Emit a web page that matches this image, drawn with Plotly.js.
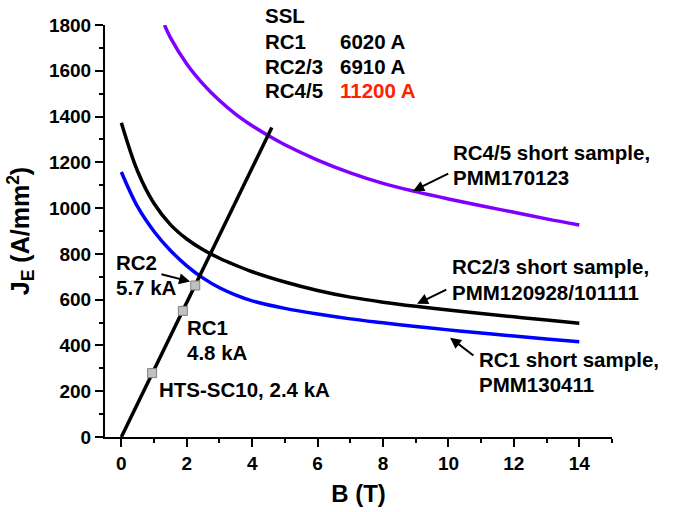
<!DOCTYPE html>
<html>
<head>
<meta charset="utf-8">
<script src="https://cdn.plot.ly/plotly-3.0.1.min.js"></script>
<style>html,body{margin:0;padding:0;background:#fff;}#chart{width:673px;height:512px;}</style>
</head>
<body>
<div id="chart"></div>
<script>
// Short-sample curves: B (T) vs J_E (A/mm^2)
const B_grid = [0, 0.5, 1, 1.5, 2, 2.5, 3, 3.5, 4, 5, 6, 7, 8, 9, 10, 11, 12, 13, 14];
const JE_RC1 = [1158, 1005, 898, 815, 748, 694, 652, 620, 595, 562, 537, 516, 499, 483, 468, 454, 441, 428, 416];
const JE_RC23 = [1373, 1160, 1020, 928, 865, 818, 781, 750, 722, 677, 640, 611, 589, 571, 555, 540, 525, 511, 497];
const B_RC45 = [1.32, 1.5, 2, 2.5, 3, 3.5, 4, 4.5, 5, 6, 7, 8, 9, 10, 11, 12, 13, 14];
const JE_RC45 = [1800, 1745, 1630, 1542, 1470, 1410, 1360, 1316, 1277, 1210, 1154, 1108, 1072, 1040, 1010, 982, 953, 926];
// Load line
const B_load = [0, 4.6];
const JE_load = [0, 1352];
// Operating points on the load line
const B_ops = [0.94, 1.88, 2.26];
const JE_ops = [279, 551, 662];
const ops_names = ['HTS-SC10, 2.4 kA', 'RC1, 4.8 kA', 'RC2, 5.7 kA'];
// SSL table
const ssl_labels = ['RC1', 'RC2/3', 'RC4/5'];
const ssl_values = ['6020 A', '6910 A', '11200 A'];

const FONT = 'Liberation Sans, Arial, sans-serif';
const traces = [
  {x: B_grid, y: JE_RC1, mode: 'lines', line: {color: '#0000ff', width: 3.5, shape: 'spline', smoothing: 1}, name: 'RC1'},
  {x: B_grid, y: JE_RC23, mode: 'lines', line: {color: '#000000', width: 3.5, shape: 'spline', smoothing: 1}, name: 'RC2/3'},
  {x: B_RC45, y: JE_RC45, mode: 'lines', line: {color: '#7f00ff', width: 3.5, shape: 'spline', smoothing: 1}, name: 'RC4/5'},
  {x: B_load, y: JE_load, mode: 'lines', line: {color: '#000000', width: 3.5}, name: 'load'},
  {x: B_ops, y: JE_ops, mode: 'markers', text: ops_names, marker: {symbol: 'square', size: 9, color: '#c0c0c0', line: {color: '#808080', width: 1}}, name: 'ops'}
];

const tf = {family: FONT, size: 20.5, color: '#000', weight: 'bold'};
function txt(t, x, y, opts) {
  return Object.assign({text: t, x: x, y: y, xref: 'x', yref: 'y', xanchor: 'left', yanchor: 'middle', showarrow: false, font: tf, borderpad: 0}, opts || {});
}
function arr(x0, y0, x1, y1) {
  return {text: '', x: x1, y: y1, ax: x0, ay: y0, xref: 'x', yref: 'y', axref: 'x', ayref: 'y',
    showarrow: true, arrowhead: 2, arrowsize: 1.1, arrowwidth: 2, arrowcolor: '#000', standoff: 0, startstandoff: 0};
}
const anns = [
  txt('SSL', 4.36, 1.024, {yref: 'paper'}),
  txt(ssl_labels[0], 4.36, 0.961, {yref: 'paper'}),
  txt(ssl_labels[1], 4.36, 0.900, {yref: 'paper'}),
  txt(ssl_labels[2], 4.36, 0.840, {yref: 'paper'}),
  txt(ssl_values[0], 6.65, 0.961, {yref: 'paper'}),
  txt(ssl_values[1], 6.65, 0.900, {yref: 'paper'}),
  txt(ssl_values[2], 6.65, 0.840, {yref: 'paper', font: Object.assign({}, tf, {color: '#ff2200'})}),
  txt('RC4/5 short sample,', 10.11, 1241),
  txt('PMM170123', 10.11, 1132),
  txt('RC2/3 short sample,', 10.07, 744),
  txt('PMM120928/101111', 10.07, 630),
  txt('RC1 short sample,', 10.90, 338),
  txt('PMM130411', 10.90, 229),
  txt('RC2', -0.20, 761),
  txt('5.7 kA', -0.20, 652),
  txt('RC1', 1.975, 477),
  txt('4.8 kA', 1.975, 368),
  txt('HTS-SC10, 2.4 kA', 1.12, 207),
  arr(10.04, 1154, 8.92, 1075),
  arr(9.98, 647, 9.04, 582),
  arr(10.81, 351, 10.05, 434),
  arr(1.18, 713, 2.10, 679)
];

const layout = {
  width: 673, height: 512,
  margin: {l: 105, r: 61, t: 25, b: 75, pad: 0},
  paper_bgcolor: '#fff', plot_bgcolor: '#fff',
  showlegend: false,
  font: {family: FONT, color: '#000'},
  xaxis: {
    range: [-0.5, 15], tick0: 0, dtick: 2, ticks: 'outside', ticklen: 8, tickwidth: 2, tickcolor: '#000',
    showline: true, linewidth: 2, linecolor: '#000', showgrid: false, zeroline: false,
    tickfont: {family: FONT, size: 19, color: '#000', weight: 'bold'},
    minor: {dtick: 1, tick0: 0, ticks: 'outside', ticklen: 4, tickwidth: 2, tickcolor: '#000', showgrid: false},
    title: {text: 'B (T)', font: {family: FONT, size: 24, color: '#000', weight: 'bold'}, standoff: 12},
    automargin: false
  },
  yaxis: {
    range: [0, 1800], tick0: 0, dtick: 200, ticks: 'outside', ticklen: 8, tickwidth: 2, tickcolor: '#000',
    showline: true, linewidth: 2, linecolor: '#000', showgrid: false, zeroline: false,
    tickfont: {family: FONT, size: 19, color: '#000', weight: 'bold'},
    minor: {dtick: 100, tick0: 0, ticks: 'outside', ticklen: 4, tickwidth: 2, tickcolor: '#000', showgrid: false},
    title: {text: 'J<sub>E</sub> (A/mm<sup>2</sup>)', font: {family: FONT, size: 25, color: '#000', weight: 'bold'}, standoff: 12},
    automargin: false
  },
  annotations: anns
};
Plotly.newPlot('chart', traces, layout, {displayModeBar: false, staticPlot: true});
</script>
</body>
</html>
